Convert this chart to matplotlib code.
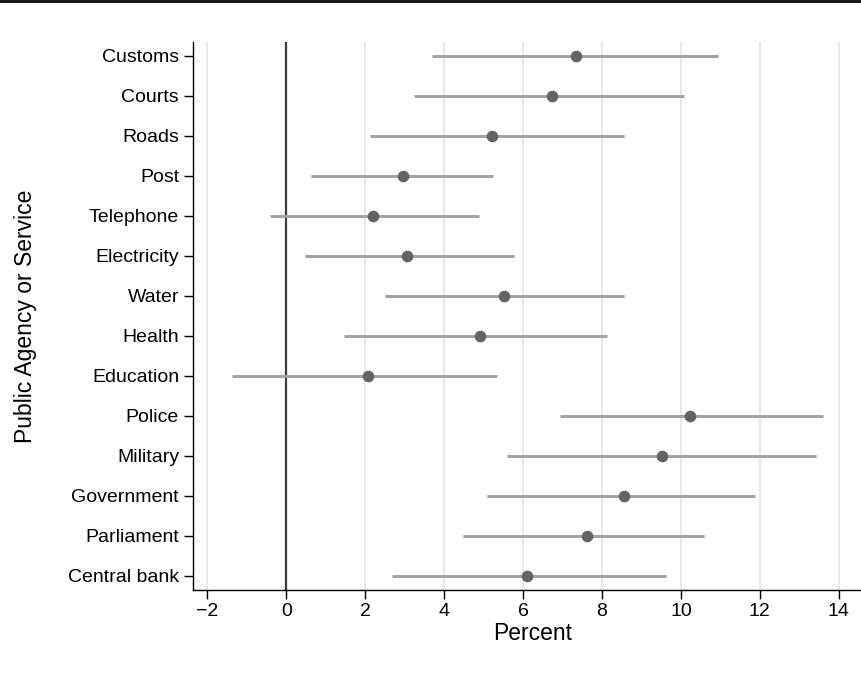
import numpy as np
import matplotlib.pyplot as plt
import matplotlib.lines as mlines

plt.rcParams['font.family'] = ['Liberation Sans', 'DejaVu Sans']

agencies = ['Customs', 'Courts', 'Roads', 'Post', 'Telephone', 'Electricity',
            'Water', 'Health', 'Education', 'Police', 'Military', 'Government',
            'Parliament', 'Central bank']
estimate = [7.35, 6.73, 5.21, 2.95, 2.19, 3.05, 5.52, 4.90, 2.06, 10.24,
            9.53, 8.57, 7.62, 6.10]
ci_low = [3.70, 3.23, 2.13, 0.63, -0.41, 0.48, 2.51, 1.46, -1.37, 6.94,
          5.59, 5.09, 4.47, 2.68]
ci_high = [10.93, 10.07, 8.57, 5.25, 4.89, 5.77, 8.55, 8.13, 5.33, 13.59,
           13.43, 11.89, 10.59, 9.63]
xticks = [-2, 0, 2, 4, 6, 8, 10, 12, 14]

fig = plt.figure(figsize=(8.62, 6.79), dpi=100)
ax = fig.add_axes([193/862, 1-590/679, 1-193/862, (590-42)/679])

ypos = np.arange(1, len(agencies)+1)

for x in xticks:
    ax.axvline(x, color='#e6e6e6', lw=1.3, zorder=0)
ax.axvline(0, color='#3a3a3a', lw=1.6, zorder=1)

ax.hlines(ypos, ci_low, ci_high, color='#a3a3a3', lw=2.2, zorder=2)
ax.plot(estimate, ypos, 'o', color='#636363', ms=8.4, mew=0, zorder=3)

ax.set_xlim(-2.365, 14.59)
ax.set_ylim(14.35, 0.65)
ax.set_yticks(ypos)
ax.set_yticklabels(agencies)
ax.set_xticks(xticks)
ax.set_xticklabels(['\u22122'] + [str(v) for v in xticks[1:]])

for s in ['top', 'right']:
    ax.spines[s].set_visible(False)
for s in ['left', 'bottom']:
    ax.spines[s].set_linewidth(1.0)
ax.tick_params(axis='both', length=6.5, width=1.0, labelsize=14)
ax.tick_params(axis='y', pad=3.5)
ax.tick_params(axis='x', pad=2.5)

ax.set_xlabel('Percent', fontsize=16.5, labelpad=2)
ax.xaxis.label.set_x(0.508)
ax.set_ylabel('Public Agency or Service', fontsize=16.5, labelpad=22)

# black band along the top edge
fig.add_artist(mlines.Line2D([0, 1], [1-1.2/679, 1-1.2/679], color='#1a1a1a',
                             lw=2.2, transform=fig.transFigure))

fig.savefig('out.png', dpi=100)
